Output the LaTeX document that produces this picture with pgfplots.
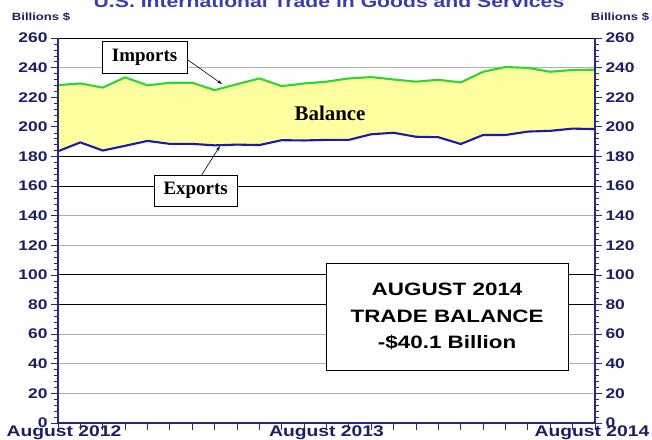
\documentclass[border=0pt]{standalone}
\usepackage{pgfplots}
\pgfplotsset{compat=1.18}
\usepackage{pgfplotstable}
\usepgfplotslibrary{fillbetween}
\usetikzlibrary{arrows.meta}
\usepackage{fontspec}
\setmainfont[FakeStretch=1.25]{Liberation Sans}
\newfontfamily\timesb{Liberation Serif}
\definecolor{impgreen}{RGB}{45,215,45}
\definecolor{expblue}{RGB}{25,25,175}
\definecolor{balfill}{RGB}{255,255,160}
\definecolor{axnavy}{RGB}{40,40,130}
\definecolor{labnavy}{RGB}{30,30,100}
\definecolor{titleblue}{RGB}{60,60,170}
\definecolor{gridgray}{RGB}{175,175,175}

\pgfplotstableread{
i imp exp
0 228.2 183.5
1 229.3 189.5
2 226.5 184.0
3 233.4 187.2
4 228.0 190.5
5 229.8 188.5
6 229.8 188.5
7 224.8 187.5
8 228.8 188.0
9 232.7 187.7
10 227.5 191.0
11 229.3 190.8
12 230.5 191.2
13 232.7 191.2
14 233.6 195.0
15 232.0 196.0
16 230.5 193.3
17 231.8 193.0
18 230.0 188.4
19 237.2 194.5
20 240.4 194.5
21 239.8 196.8
22 237.2 197.3
23 238.4 198.8
24 238.6 198.5
}\trade

\begin{document}
\begin{tikzpicture}[x=1bp,y=1bp]
\begin{axis}[
  at={(0,0)}, anchor=south west,
  scale only axis, width=537bp, height=385bp,
  xmin=0, xmax=24, ymin=0, ymax=260,
  axis line style={draw=none},
  clip=false,
  tick align=outside,
  major tick length=7bp, minor tick length=3.5bp,
  xtick={0,...,24},
  xticklabels={\hspace*{12bp}August 2012,,,,,,,,,,,,August 2013,,,,,,,,,,,,August 2014\hspace*{6bp}},
  xtick pos=bottom,
  xtick style={axnavy, line width=0.8bp},
  ytick={0,20,...,260},
  ytick style={axnavy, line width=0.8bp},
  minor y tick num=4,
  minor y tick style={axnavy, line width=0.5bp},
  ymajorgrids,
  grid style={gridgray, line width=0.9bp},
  extra y ticks={80,100,160,180},
  extra y tick labels={},
  extra y tick style={grid style={black, line width=0.9bp}},
  /pgf/number format/assume math mode=true,
  yticklabel style={font=\bfseries\fontsize{14}{14}\selectfont, text=labnavy},
  xticklabel style={font=\bfseries\fontsize{15.5}{15.5}\selectfont, text=labnavy, yshift=8bp},
]
\addplot[draw=none, name path=imp] table[x=i, y=imp] {\trade};
\addplot[draw=none, name path=exp] table[x=i, y=exp] {\trade};
\addplot[fill=balfill, draw=none] fill between[of=imp and exp];
\addplot[impgreen, line width=2.1bp] table[x=i, y=imp] {\trade};
\addplot[expblue, line width=2.1bp] table[x=i, y=exp] {\trade};

\draw[black, line width=0.9bp] (rel axis cs:0,1) -- (rel axis cs:1,1);
\draw[axnavy, line width=2bp] (rel axis cs:0,1) -- (rel axis cs:0,0) -- (rel axis cs:1,0) -- (rel axis cs:1,1);

\draw[-{Stealth[length=5bp,width=3bp]}, black, line width=0.6bp] (axis cs:5.81,245.1) -- (axis cs:7.33,228.9);
\draw[-{Stealth[length=5bp,width=3bp]}, black, line width=0.6bp] (axis cs:6.42,167.5) -- (axis cs:7.24,187);
\node[draw=black, fill=white, line width=0.8bp, minimum width=85bp, minimum height=32bp, inner sep=0pt,
  font=\timesb\bfseries\fontsize{19}{19}\selectfont] at (axis cs:3.87,247.1) {Imports};
\node[draw=black, fill=white, line width=0.8bp, minimum width=83bp, minimum height=31bp, inner sep=0pt,
  font=\timesb\bfseries\fontsize{19}{19}\selectfont] at (axis cs:6.15,157) {Exports};
\node[font=\timesb\bfseries\fontsize{21}{21}\selectfont] at (axis cs:12.16,209.3) {Balance};
\node[draw=black, fill=white, line width=0.8bp, minimum width=242bp, minimum height=107bp, inner sep=0pt,
  align=center, font=\bfseries\fontsize{18}{26.5}\selectfont] at (axis cs:17.39,71.9)
  {AUGUST 2014\\TRADE BALANCE\\-\$40.1 Billion};
\end{axis}
\begin{axis}[
  at={(0,0)}, anchor=south west,
  scale only axis, width=537bp, height=385bp,
  xmin=0, xmax=24, ymin=0, ymax=260,
  hide x axis,
  axis y line*=right,
  y axis line style={draw=none},
  ytick={0,20,...,260},
  tick align=outside,
  major tick length=7bp,
  ytick style={axnavy, line width=0.8bp},
  minor y tick num=4, minor tick length=3.5bp,
  minor y tick style={axnavy, line width=0.5bp},
  /pgf/number format/assume math mode=true,
  yticklabel style={font=\bfseries\fontsize{14}{14}\selectfont, text=labnavy},
]
\addplot[draw=none] coordinates {(0,0)};
\end{axis}
\node[font=\bfseries\fontsize{10.5}{10.5}\selectfont, text=labnavy] at (-17bp,406bp) {Billions \$};
\node[font=\bfseries\fontsize{10.5}{10.5}\selectfont, text=labnavy] at (562bp,406bp) {Billions \$};
\node[anchor=base, font=\bfseries\fontsize{17}{17}\selectfont, text=titleblue] at (271bp,415bp)
  {U.S. International Trade in Goods and Services};
\pgfresetboundingbox
\useasboundingbox (-58bp,-17bp) rectangle (594bp,423bp);
\end{tikzpicture}
\end{document}
